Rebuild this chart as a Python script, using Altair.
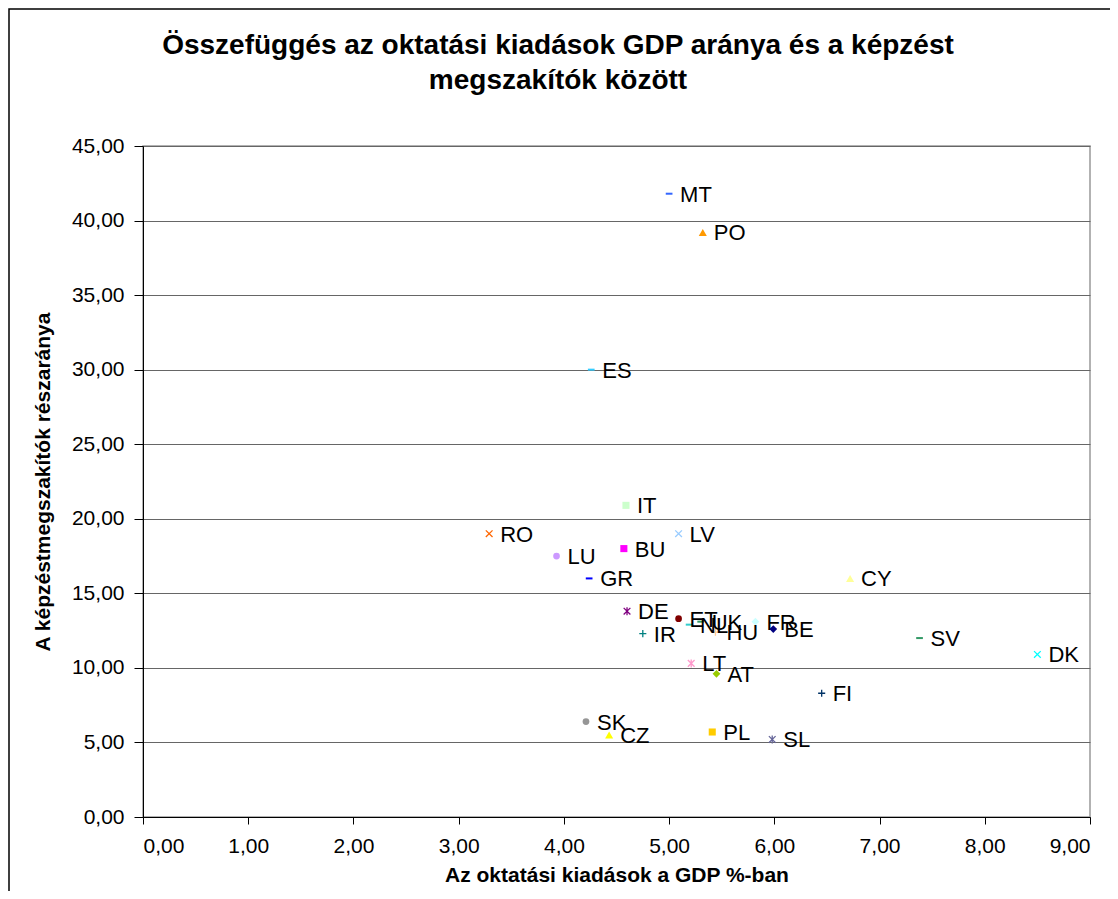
import altair as alt
import pandas as pd

countries = ["MT", "PO", "ES", "IT", "RO", "LV", "BU", "LU", "GR", "CY",
             "DE", "ET", "NL", "UK", "HU", "FR", "BE", "IR", "LT", "AT",
             "SV", "DK", "FI", "SK", "CZ", "PL", "SL"]
gdp = [5.00, 5.32, 4.26, 4.59, 3.29, 5.09, 4.57, 3.93, 4.24, 6.72,
       4.60, 5.09, 5.19, 5.30, 5.44, 5.82, 5.99, 4.75, 5.21, 5.45,
       7.38, 8.50, 6.45, 4.21, 4.43, 5.41, 5.98]
dropout = [41.8, 39.2, 30.0, 20.9, 19.0, 19.0, 18.0, 17.5, 16.0, 16.0,
           13.8, 13.3, 12.9, 13.1, 12.4, 13.1, 12.6, 12.3, 10.3, 9.6,
           12.0, 10.9, 8.3, 6.4, 5.5, 5.7, 5.2]
colors = ["#3366FF", "#FF9900", "#33CCFF", "#CCFFCC", "#FF6600", "#99CCFF", "#FF00FF", "#CC99FF", "#0000FF", "#FFFF99",
          "#800080", "#800000", "#33CCCC", "#339966", "#FFCC99", "#CCFFFF", "#000080", "#008080", "#FF99CC", "#99CC00",
          "#339966", "#00FFFF", "#003366", "#969696", "#FFFF00", "#FFCC00", "#666699"]
markers = ["dash", "triangle", "dash", "square", "x", "x", "square", "circle", "dash", "triangle",
           "star", "circle", "dash", "dash", "plus", "diamond", "diamond", "plus", "star", "diamond",
           "dash", "x", "plus", "circle", "triangle", "square", "star"]

title_lines = ["Összefüggés az oktatási kiadások GDP aránya és a képzést", "megszakítók között"]
x_title = "Az oktatási kiadások a GDP %-ban"
y_title = "A képzéstmegszakítók részaránya"

shape_paths = {
    "dash": ("M-1,-0.3L1,-0.3L1,0.3L-1,0.3Z", True, 45),
    "triangle": ("triangle-up", True, 65),
    "square": ("square", True, 50),
    "circle": ("circle", True, 45),
    "diamond": ("diamond", True, 60),
    "x": ("M-1,-1L1,1M-1,1L1,-1", False, 45),
    "plus": ("M-1,0L1,0M0,-1L0,1", False, 50),
    "star": ("M-1,-1L1,1M-1,1L1,-1M0,-1.2L0,1.2", False, 45),
}

df = pd.DataFrame({
    "country": countries,
    "gdp": gdp,
    "dropout": dropout,
    "color": colors,
    "shape": [shape_paths[m][0] for m in markers],
    "filled": [shape_paths[m][1] for m in markers],
    "size": [shape_paths[m][2] for m in markers],
})

W, H = 947, 671
PL, PT, PR, PB = 135, 138, 20, 74

lab = "replace(format(datum.value, '.2f'), '.', ',')"
FONT = "Liberation Sans"

x = alt.X("gdp:Q", title=x_title,
          scale=alt.Scale(domain=[0, 9], nice=False),
          axis=alt.Axis(values=list(range(0, 10)), labelExpr=lab, grid=False,
                        domainColor="black", tickColor="black", tickSize=7,
                        labelFontSize=21, labelFont=FONT, labelColor="black", labelPadding=11,
                        titleFontSize=21, titleFont=FONT, titleFontWeight="bold", titleColor="black",
                        titlePadding=8))
y = alt.Y("dropout:Q", title=y_title,
          scale=alt.Scale(domain=[0, 45], nice=False),
          axis=alt.Axis(values=list(range(0, 50, 5)), labelExpr=lab, grid=True,
                        gridColor="#666666", gridWidth=1,
                        domainColor="black", tickColor="black", tickSize=9,
                        labelFontSize=21, labelFont=FONT, labelColor="black", labelPadding=10,
                        titleFontSize=21, titleFont=FONT, titleFontWeight="bold", titleColor="black",
                        titlePadding=18))

base = alt.Chart(df).encode(x=x, y=y)

filled_pts = base.transform_filter("datum.filled").mark_point(filled=True, opacity=1).encode(
    color=alt.Color("color:N", scale=None),
    shape=alt.Shape("shape:N", scale=None),
    size=alt.Size("size:Q", scale=None),
)
stroke_pts = base.transform_filter("!datum.filled").mark_point(filled=False, opacity=1, strokeWidth=1.3).encode(
    color=alt.Color("color:N", scale=None),
    shape=alt.Shape("shape:N", scale=None),
    size=alt.Size("size:Q", scale=None),
)
labels = base.mark_text(align="left", baseline="middle", dx=11, dy=1, fontSize=22,
                        font=FONT, color="black").encode(text="country:N")

one = pd.DataFrame({"k": [0]})
frame = alt.Chart(one).mark_rect(
    fillOpacity=0, stroke="black", strokeWidth=1.5
).encode(
    x=alt.value(-PL + 1), x2=alt.value(W + PR + 50),
    y=alt.value(-PT + 1), y2=alt.value(H + PB + 50),
)

title1 = alt.Chart(one).mark_text(
    fontSize=28, font=FONT, fontWeight="bold", color="black", align="center", baseline="middle"
).encode(x=alt.value(415), y=alt.value(-100), text=alt.value(title_lines[0]))
title2 = alt.Chart(one).mark_text(
    fontSize=28, font=FONT, fontWeight="bold", color="black", align="center", baseline="middle"
).encode(x=alt.value(415), y=alt.value(-65), text=alt.value(title_lines[1]))

chart = alt.layer(frame, title1, title2, filled_pts, stroke_pts, labels).properties(
    width=W, height=H,
    autosize=alt.AutoSizeParams(type="none"),
    padding={"left": PL, "top": PT, "right": PR, "bottom": PB},
    background="white",
).configure_view(stroke="#999999", strokeWidth=1.5)

chart.save("out.html", embed_options={"renderer": "svg", "actions": False})
